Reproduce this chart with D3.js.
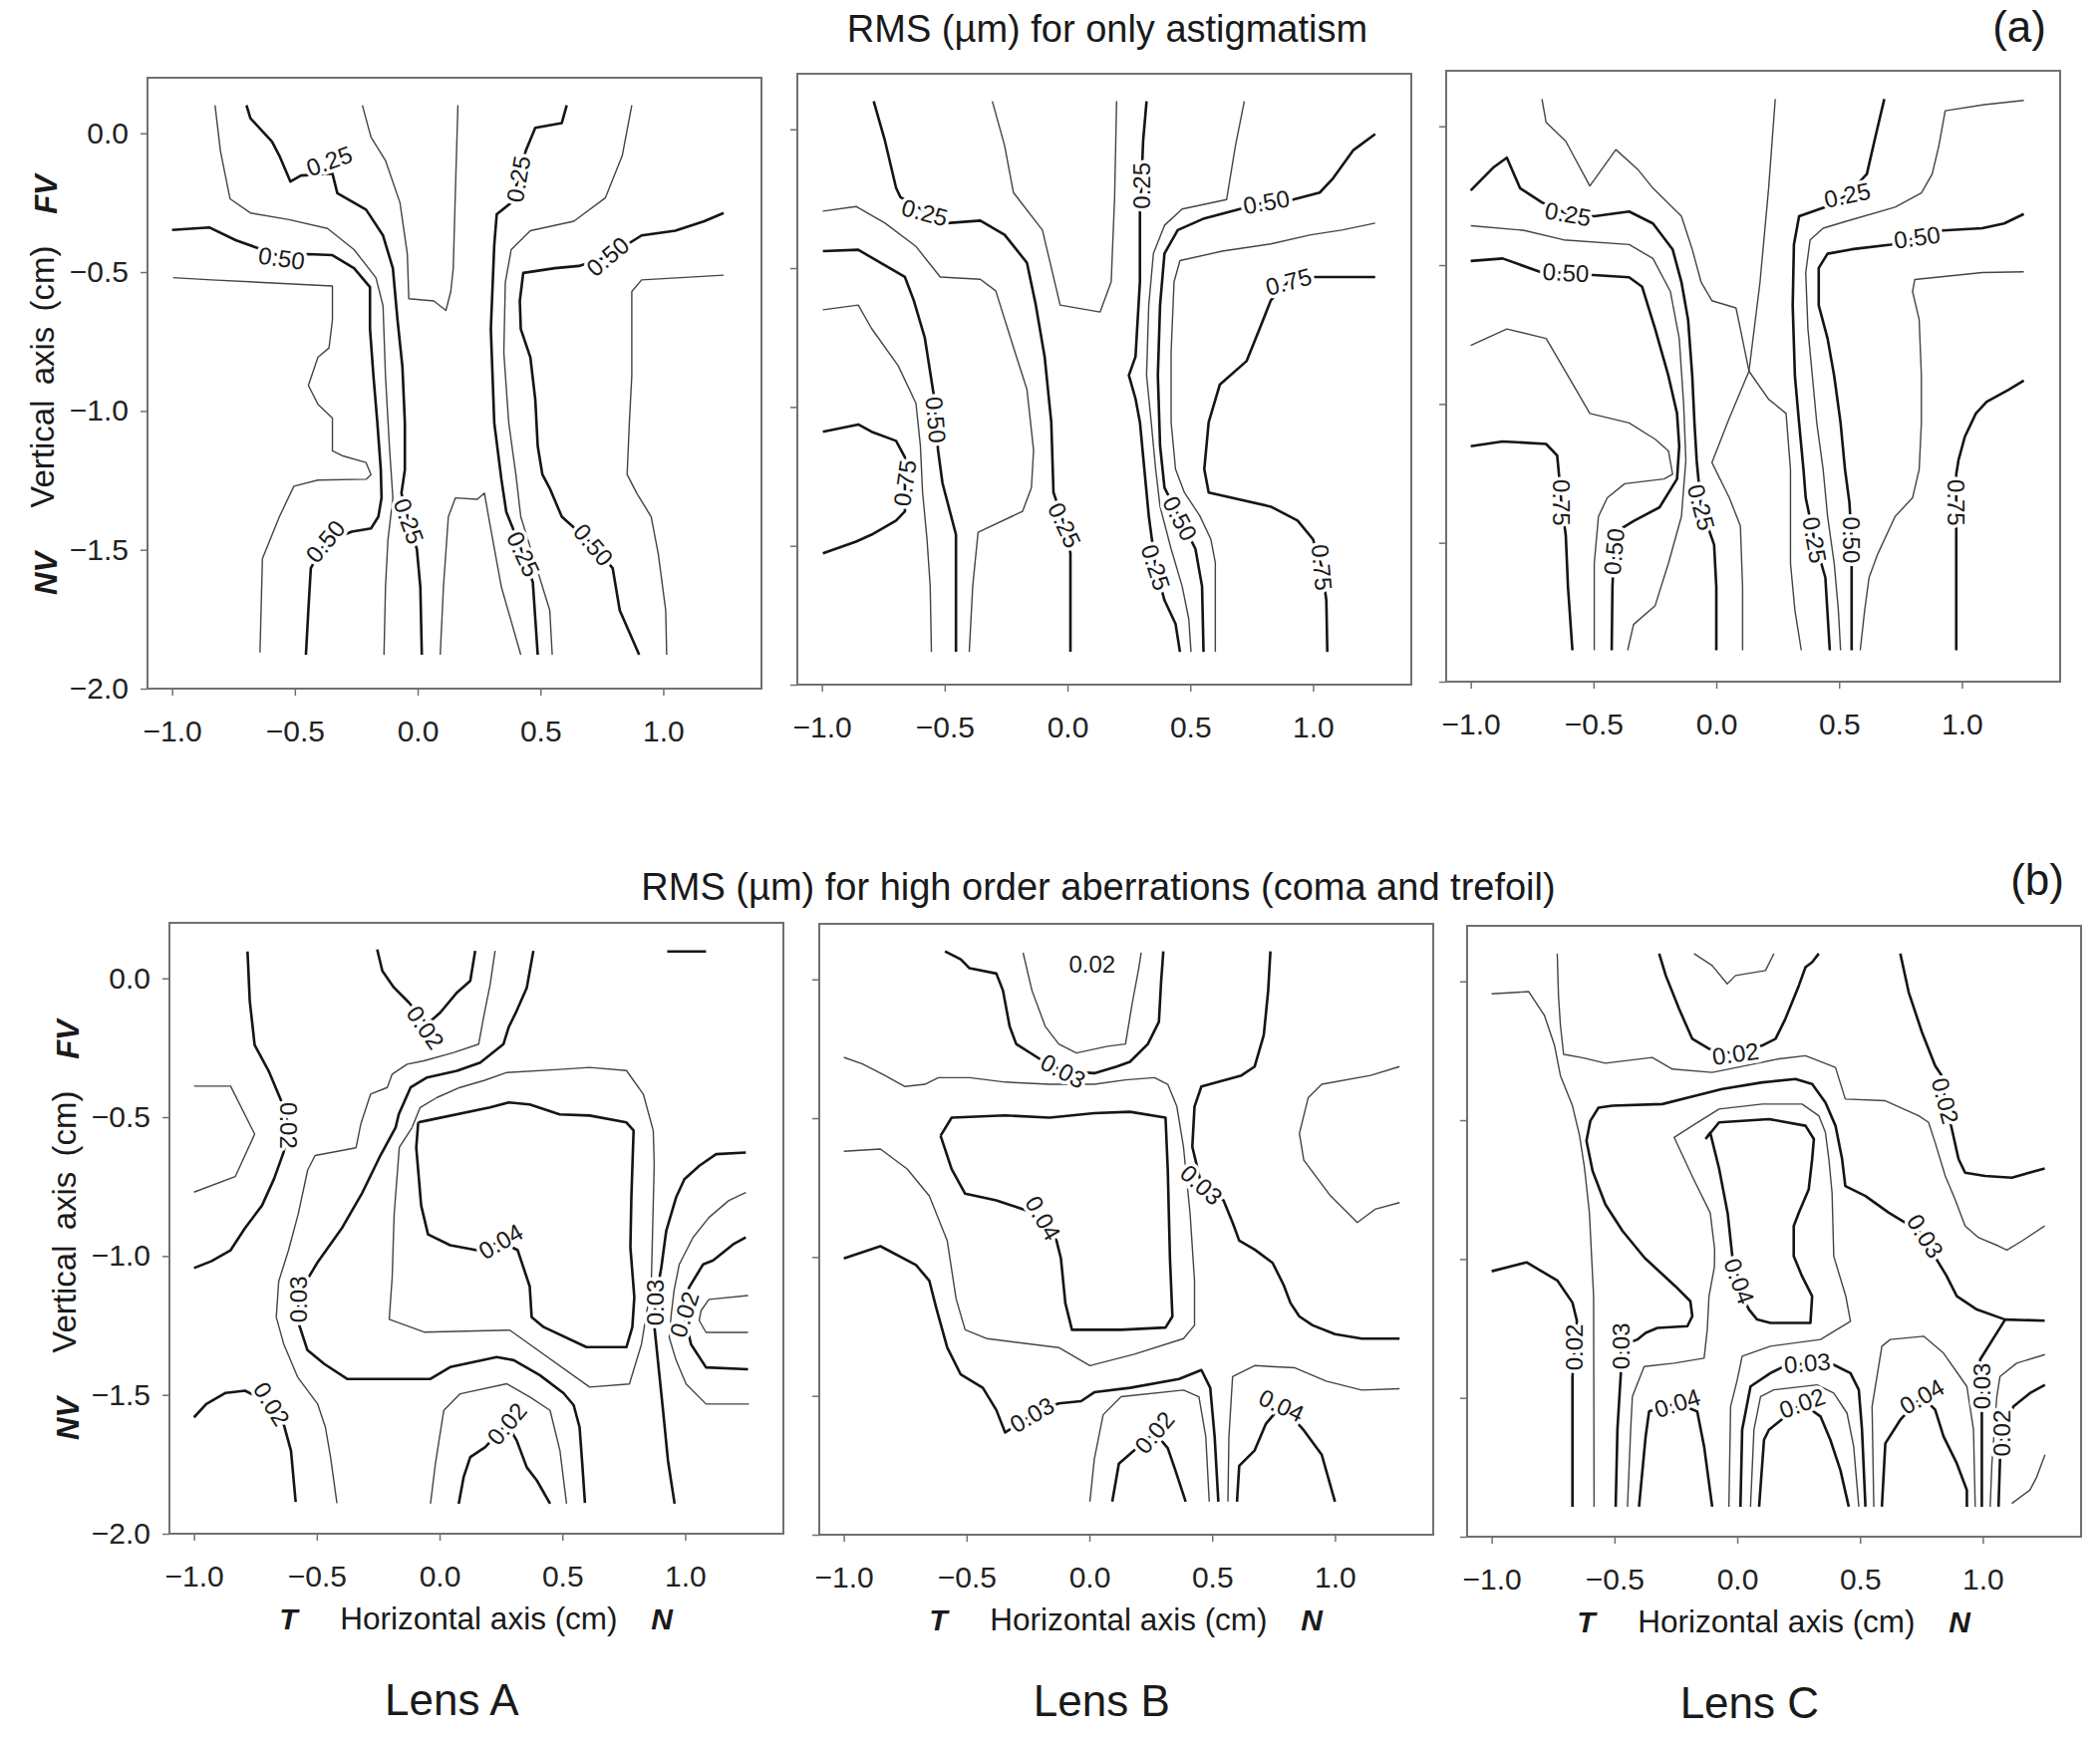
<!DOCTYPE html>
<html lang="en">
<head>
<meta charset="UTF-8">
<title>RMS contour maps - Lens A, B, C</title>
<script src="https://d3js.org/d3.v7.min.js"></script>
<style>
  body { margin: 0; background: #fff; }
  svg text { font-family: "Liberation Sans", Arial, Helvetica, sans-serif; fill: #1a1a1a; }
  .box { fill: none; stroke: #707070; stroke-width: 2; }
  .tick line { stroke: #707070; stroke-width: 1.5; }
  .tick text { font-size: 30px; fill: #222; }
  .major { fill: none; stroke: #151515; stroke-width: 2.6; stroke-linejoin: round; }
  .minor { fill: none; stroke: #444; stroke-width: 1.4; stroke-linejoin: round; }
  .clabel { font-size: 24px; text-anchor: middle; dominant-baseline: central;
            stroke: #fff; stroke-width: 7px; paint-order: stroke; stroke-linejoin: round; }
</style>
</head>
<body>
<svg id="chart" width="2107" height="1746"></svg>
<script>
// ---- data: contour lines, [level, [[x cm, y cm], ...]] ----
var xTicks = [-1, -0.5, 0, 0.5, 1];
var yTicks = [0, -0.5, -1, -1.5, -2];
var majorLevels = [0.25, 0.5, 0.75, 0.02, 0.03, 0.04];
var lensNames = ["Lens A", "Lens B", "Lens C"];

// (a) astigmatism, lens A
var astigA = [
  [0.625, [[-0.996,-0.52],[-0.839,-0.528],[-0.347,-0.55],[-0.347,-0.672],[-0.361,-0.773],[-0.406,-0.807],[-0.445,-0.908],[-0.406,-0.976],[-0.347,-1.026],[-0.347,-1.144],[-0.308,-1.161],[-0.21,-1.186],[-0.19,-1.229],[-0.21,-1.246],[-0.406,-1.249],[-0.504,-1.271],[-0.563,-1.381],[-0.632,-1.532],[-0.642,-1.87]]],
  [0.5, [[-1.0,-0.348],[-0.849,-0.339],[-0.741,-0.385],[-0.662,-0.41],[-0.554,-0.444],[-0.445,-0.435],[-0.347,-0.439],[-0.259,-0.486],[-0.194,-0.554],[-0.194,-0.705],[-0.18,-0.874],[-0.164,-1.043],[-0.15,-1.212],[-0.147,-1.313],[-0.16,-1.381],[-0.19,-1.423],[-0.268,-1.435],[-0.376,-1.473],[-0.435,-1.566],[-0.445,-1.718],[-0.455,-1.878]]],
  [0.375, [[-0.825,0.101],[-0.803,-0.064],[-0.764,-0.236],[-0.681,-0.287],[-0.524,-0.311],[-0.367,-0.343],[-0.259,-0.419],[-0.17,-0.52],[-0.141,-0.621],[-0.131,-0.874],[-0.115,-1.127],[-0.101,-1.313],[-0.121,-1.465],[-0.131,-1.634],[-0.137,-1.878]]],
  [0.25, [[-0.697,0.101],[-0.681,0.054],[-0.593,-0.03],[-0.563,-0.081],[-0.518,-0.174],[-0.475,-0.152],[-0.347,-0.145],[-0.327,-0.216],[-0.21,-0.275],[-0.141,-0.368],[-0.101,-0.486],[-0.082,-0.672],[-0.062,-0.841],[-0.052,-1.043],[-0.052,-1.212],[-0.066,-1.296],[-0.036,-1.397],[-0.003,-1.499],[0.011,-1.634],[0.017,-1.878]]],
  [0.125, [[-0.225,0.101],[-0.19,-0.014],[-0.131,-0.098],[-0.072,-0.25],[-0.042,-0.435],[-0.036,-0.596],[0.066,-0.604],[0.115,-0.638],[0.135,-0.57],[0.145,-0.486],[0.154,-0.199],[0.164,0.101]]],
  [0.125, [[0.092,-1.878],[0.105,-1.634],[0.125,-1.381],[0.154,-1.313],[0.243,-1.318],[0.272,-1.296],[0.292,-1.397],[0.341,-1.634],[0.42,-1.878]]],
  [0.25, [[0.607,0.101],[0.587,0.037],[0.479,0.02],[0.44,-0.064],[0.41,-0.165],[0.381,-0.25],[0.322,-0.292],[0.312,-0.402],[0.298,-0.705],[0.312,-1.043],[0.341,-1.246],[0.361,-1.364],[0.43,-1.516],[0.469,-1.617],[0.489,-1.878]]],
  [0.375, [[0.872,0.101],[0.833,-0.081],[0.764,-0.233],[0.636,-0.317],[0.459,-0.351],[0.381,-0.419],[0.357,-0.537],[0.351,-0.79],[0.371,-1.043],[0.4,-1.229],[0.42,-1.381],[0.479,-1.549],[0.538,-1.718],[0.548,-1.878]]],
  [0.5, [[1.246,-0.287],[1.167,-0.317],[1.049,-0.351],[0.912,-0.368],[0.774,-0.444],[0.656,-0.478],[0.558,-0.486],[0.43,-0.503],[0.416,-0.604],[0.42,-0.705],[0.459,-0.807],[0.479,-0.959],[0.489,-1.127],[0.508,-1.229],[0.538,-1.279],[0.587,-1.381],[0.715,-1.482],[0.794,-1.566],[0.823,-1.718],[0.902,-1.878]]],
  [0.625, [[1.246,-0.511],[0.912,-0.528],[0.872,-0.57],[0.872,-0.874],[0.862,-1.043],[0.853,-1.229],[0.892,-1.296],[0.951,-1.381],[0.98,-1.516],[1.01,-1.718],[1.014,-1.878]]]
];
var astigALabels = [
  ["0.25", -0.36, -0.10, -20], ["0.50", -0.554, -0.45, 8], ["0.50", -0.376, -1.47, -50],
  ["0.25", -0.036, -1.397, 70], ["0.25", 0.41, -0.165, -80], ["0.25", 0.43, -1.516, 65],
  ["0.50", 0.774, -0.444, -40], ["0.50", 0.715, -1.482, 50]
];

// (a) astigmatism, lens B
var astigB = [
  [0.25, [[-0.789,0.101],[-0.743,-0.042],[-0.698,-0.211],[-0.68,-0.245],[-0.581,-0.295],[-0.49,-0.338],[-0.355,-0.329],[-0.256,-0.38],[-0.165,-0.481],[-0.129,-0.633],[-0.093,-0.819],[-0.066,-1.055],[-0.057,-1.308],[-0.012,-1.426],[0.012,-1.527],[0.012,-1.882]]],
  [0.375, [[-0.996,-0.295],[-0.861,-0.278],[-0.743,-0.338],[-0.617,-0.422],[-0.518,-0.532],[-0.355,-0.54],[-0.292,-0.582],[-0.22,-0.785],[-0.165,-0.937],[-0.138,-1.156],[-0.147,-1.291],[-0.183,-1.376],[-0.364,-1.451],[-0.386,-1.646],[-0.4,-1.882]]],
  [0.5, [[-0.996,-0.439],[-0.852,-0.434],[-0.662,-0.532],[-0.626,-0.616],[-0.581,-0.751],[-0.545,-0.954],[-0.536,-1.046],[-0.527,-1.156],[-0.509,-1.274],[-0.454,-1.46],[-0.454,-1.882]]],
  [0.625, [[-0.996,-0.65],[-0.852,-0.633],[-0.798,-0.717],[-0.689,-0.852],[-0.617,-0.987],[-0.599,-1.139],[-0.59,-1.308],[-0.572,-1.477],[-0.559,-1.646],[-0.554,-1.882]]],
  [0.75, [[-0.996,-1.089],[-0.852,-1.063],[-0.798,-1.089],[-0.698,-1.122],[-0.662,-1.181],[-0.662,-1.274],[-0.662,-1.376],[-0.698,-1.409],[-0.798,-1.46],[-0.861,-1.485],[-0.996,-1.527]]],
  [0.125, [[-0.306,0.101],[-0.256,-0.059],[-0.22,-0.228],[-0.102,-0.363],[-0.03,-0.633],[0.133,-0.658],[0.178,-0.549],[0.192,-0.245],[0.2,0.101]]],
  [0.25, [[0.322,0.101],[0.308,-0.042],[0.301,-0.203],[0.295,-0.295],[0.295,-0.549],[0.277,-0.819],[0.25,-0.886],[0.277,-0.97],[0.295,-1.055],[0.313,-1.224],[0.331,-1.392],[0.359,-1.578],[0.395,-1.696],[0.44,-1.781],[0.458,-1.882]]],
  [0.375, [[0.72,0.101],[0.684,-0.059],[0.648,-0.253],[0.467,-0.287],[0.395,-0.346],[0.35,-0.447],[0.331,-0.633],[0.322,-0.886],[0.341,-1.055],[0.359,-1.224],[0.377,-1.359],[0.422,-1.511],[0.467,-1.646],[0.494,-1.764],[0.503,-1.882]]],
  [0.5, [[1.253,-0.017],[1.163,-0.076],[1.081,-0.177],[1.027,-0.228],[0.919,-0.253],[0.81,-0.262],[0.702,-0.287],[0.557,-0.321],[0.449,-0.363],[0.395,-0.447],[0.377,-0.633],[0.368,-0.886],[0.377,-1.139],[0.395,-1.291],[0.458,-1.401],[0.521,-1.511],[0.548,-1.646],[0.554,-1.882]]],
  [0.625, [[1.253,-0.338],[1.117,-0.363],[0.991,-0.38],[0.828,-0.413],[0.63,-0.439],[0.458,-0.473],[0.434,-0.549],[0.422,-0.802],[0.422,-1.055],[0.44,-1.224],[0.476,-1.308],[0.539,-1.392],[0.584,-1.477],[0.602,-1.561],[0.602,-1.882]]],
  [0.75, [[1.253,-0.532],[1.009,-0.532],[0.9,-0.549],[0.828,-0.616],[0.783,-0.717],[0.729,-0.835],[0.62,-0.92],[0.575,-1.055],[0.557,-1.224],[0.575,-1.308],[0.828,-1.359],[0.937,-1.409],[1.0,-1.477],[1.036,-1.578],[1.054,-1.696],[1.058,-1.882]]]
];
var astigBLabels = [
  ["0.25", -0.581, -0.3, 15], ["0.50", -0.536, -1.046, 85], ["0.75", -0.662, -1.274, -82],
  ["0.25", -0.012, -1.426, 65], ["0.25", 0.301, -0.203, -90], ["0.25", 0.359, -1.578, 72],
  ["0.50", 0.81, -0.262, -10], ["0.50", 0.458, -1.401, 62], ["0.75", 0.9, -0.549, -15],
  ["0.75", 1.036, -1.578, 85]
];

// (a) astigmatism, lens C
var astigC = [
  [0.25, [[-1.0,-0.231],[-0.906,-0.147],[-0.853,-0.113],[-0.799,-0.223],[-0.71,-0.274],[-0.604,-0.316],[-0.497,-0.324],[-0.355,-0.307],[-0.258,-0.35],[-0.178,-0.443],[-0.142,-0.561],[-0.115,-0.696],[-0.098,-0.899],[-0.089,-1.068],[-0.08,-1.203],[-0.062,-1.372],[-0.009,-1.507],[0,-1.659],[0,-1.887]]],
  [0.125, [[-0.71,0.098],[-0.693,0.014],[-0.613,-0.054],[-0.515,-0.215],[-0.409,-0.084],[-0.32,-0.155],[-0.258,-0.223],[-0.142,-0.324],[-0.098,-0.443],[-0.062,-0.561],[-0.018,-0.628],[0.08,-0.654],[0.098,-0.73],[0.133,-0.882],[0.213,-0.983],[0.284,-1.034],[0.302,-1.236],[0.302,-1.574],[0.32,-1.743],[0.346,-1.887]]],
  [0.375, [[-1.0,-0.358],[-0.782,-0.375],[-0.622,-0.409],[-0.355,-0.426],[-0.258,-0.476],[-0.187,-0.595],[-0.151,-0.764],[-0.133,-1.0],[-0.124,-1.203],[-0.142,-1.405],[-0.195,-1.574],[-0.249,-1.726],[-0.337,-1.794],[-0.361,-1.887]]],
  [0.5, [[-1.0,-0.485],[-0.87,-0.476],[-0.71,-0.527],[-0.613,-0.527],[-0.515,-0.535],[-0.355,-0.544],[-0.302,-0.578],[-0.249,-0.73],[-0.195,-0.899],[-0.16,-1.034],[-0.151,-1.152],[-0.16,-1.27],[-0.231,-1.372],[-0.337,-1.422],[-0.4,-1.456],[-0.417,-1.532],[-0.423,-1.659],[-0.426,-1.887]]],
  [0.625, [[-1.0,-0.789],[-0.853,-0.73],[-0.693,-0.764],[-0.604,-0.899],[-0.515,-1.034],[-0.355,-1.068],[-0.249,-1.127],[-0.195,-1.169],[-0.178,-1.253],[-0.213,-1.27],[-0.373,-1.287],[-0.444,-1.338],[-0.48,-1.405],[-0.497,-1.574],[-0.497,-1.887]]],
  [0.75, [[-1.0,-1.152],[-0.87,-1.135],[-0.693,-1.144],[-0.648,-1.186],[-0.639,-1.27],[-0.631,-1.355],[-0.613,-1.473],[-0.604,-1.659],[-0.586,-1.887]]],
  [0.125, [[0.24,0.098],[0.213,-0.223],[0.178,-0.561],[0.133,-0.882],[0.053,-1.051],[-0.018,-1.211],[0.053,-1.338],[0.098,-1.439],[0.107,-1.659],[0.107,-1.887]]],
  [0.25, [[0.684,0.098],[0.648,-0.037],[0.613,-0.172],[0.533,-0.248],[0.444,-0.291],[0.337,-0.324],[0.316,-0.426],[0.311,-0.645],[0.32,-0.899],[0.337,-1.068],[0.355,-1.236],[0.364,-1.338],[0.4,-1.49],[0.444,-1.625],[0.462,-1.887]]],
  [0.375, [[1.252,0.093],[1.092,0.078],[0.932,0.056],[0.906,-0.071],[0.879,-0.172],[0.835,-0.24],[0.728,-0.291],[0.533,-0.341],[0.435,-0.367],[0.382,-0.409],[0.364,-0.527],[0.373,-0.73],[0.391,-0.899],[0.409,-1.068],[0.435,-1.236],[0.453,-1.405],[0.48,-1.574],[0.497,-1.743],[0.506,-1.887]]],
  [0.5, [[1.252,-0.316],[1.172,-0.35],[1.083,-0.367],[0.924,-0.375],[0.817,-0.4],[0.71,-0.426],[0.551,-0.443],[0.453,-0.459],[0.417,-0.51],[0.417,-0.645],[0.453,-0.764],[0.48,-0.899],[0.506,-1.068],[0.524,-1.236],[0.542,-1.355],[0.551,-1.49],[0.551,-1.659],[0.551,-1.887]]],
  [0.625, [[1.252,-0.524],[1.083,-0.527],[0.808,-0.552],[0.799,-0.595],[0.826,-0.696],[0.835,-0.899],[0.835,-1.068],[0.826,-1.236],[0.799,-1.338],[0.728,-1.405],[0.657,-1.541],[0.622,-1.625],[0.604,-1.743],[0.586,-1.887]]],
  [0.75, [[1.252,-0.916],[1.19,-0.949],[1.101,-0.992],[1.057,-1.034],[1.012,-1.118],[0.986,-1.203],[0.977,-1.253],[0.977,-1.355],[0.977,-1.439],[0.977,-1.659],[0.977,-1.887]]]
];
var astigCLabels = [
  ["0.25", -0.604, -0.316, 10], ["0.50", -0.613, -0.527, 3], ["0.25", -0.062, -1.372, 75],
  ["0.50", -0.417, -1.532, -85], ["0.75", -0.631, -1.355, 90], ["0.25", 0.533, -0.248, -12],
  ["0.50", 0.817, -0.4, -8], ["0.25", 0.4, -1.49, 80], ["0.50", 0.551, -1.49, 90],
  ["0.75", 0.977, -1.355, 90]
];

// (b) coma + trefoil, lens A
var hoaA = [
  [0.02, [[-0.782,0.097],[-0.773,-0.08],[-0.753,-0.24],[-0.694,-0.337],[-0.645,-0.441],[-0.615,-0.53],[-0.635,-0.626],[-0.674,-0.722],[-0.723,-0.818],[-0.792,-0.899],[-0.851,-0.979],[-0.93,-1.019],[-1.0,-1.043]]],
  [0.015, [[-1.0,-0.388],[-0.851,-0.388],[-0.753,-0.561],[-0.832,-0.714],[-1.0,-0.77]]],
  [0.02, [[-0.254,0.104],[-0.233,0.027],[-0.186,-0.033],[-0.125,-0.087],[-0.051,-0.165],[0.003,-0.123],[0.071,-0.051],[0.125,-0.009],[0.145,0.099]]],
  [0.025, [[0.226,0.099],[0.206,-0.022],[0.179,-0.141],[0.159,-0.237],[0.058,-0.267],[-0.064,-0.297],[-0.132,-0.309],[-0.193,-0.345],[-0.213,-0.393],[-0.281,-0.417],[-0.321,-0.525],[-0.34,-0.61],[-0.507,-0.638],[-0.537,-0.69],[-0.576,-0.85],[-0.615,-0.979],[-0.655,-1.091],[-0.665,-1.22],[-0.635,-1.316],[-0.578,-1.436],[-0.497,-1.532],[-0.465,-1.616],[-0.444,-1.724],[-0.418,-1.89]]],
  [0.03, [[0.382,0.099],[0.355,-0.034],[0.314,-0.117],[0.281,-0.177],[0.26,-0.237],[0.166,-0.303],[0.071,-0.333],[-0.051,-0.357],[-0.118,-0.393],[-0.166,-0.489],[-0.179,-0.537],[-0.245,-0.645],[-0.314,-0.771],[-0.396,-0.897],[-0.497,-1.023],[-0.558,-1.113],[-0.574,-1.156],[-0.578,-1.231],[-0.538,-1.339],[-0.469,-1.389],[-0.375,-1.443],[-0.039,-1.443],[0.043,-1.4],[0.233,-1.364],[0.302,-1.375],[0.408,-1.429],[0.505,-1.494],[0.546,-1.537],[0.57,-1.616],[0.582,-1.76],[0.592,-1.889]]],
  [0.035, [[-0.112,-0.537],[-0.079,-0.465],[-0.01,-0.429],[0.083,-0.393],[0.181,-0.368],[0.274,-0.339],[0.489,-0.328],[0.611,-0.321],[0.761,-0.332],[0.83,-0.418],[0.87,-0.548],[0.874,-0.67],[0.862,-1.102],[0.822,-1.318],[0.773,-1.461],[0.611,-1.472],[0.286,-1.267],[-0.063,-1.274],[-0.205,-1.228],[-0.193,-1.077],[-0.185,-0.85],[-0.164,-0.609],[-0.112,-0.537]]],
  [0.04, [[-0.087,-0.519],[-0.051,-0.512],[0.205,-0.465],[0.282,-0.447],[0.367,-0.454],[0.489,-0.49],[0.611,-0.494],[0.761,-0.519],[0.79,-0.548],[0.781,-0.789],[0.777,-0.969],[0.793,-1.148],[0.785,-1.256],[0.761,-1.328],[0.598,-1.328],[0.424,-1.256],[0.375,-1.22],[0.367,-1.109],[0.318,-0.979],[0.249,-0.947],[0.152,-0.979],[0.043,-0.961],[-0.047,-0.922],[-0.075,-0.818],[-0.095,-0.609],[-0.087,-0.519]]],
  [0.03, [[1.247,-0.627],[1.126,-0.633],[1.058,-0.675],[0.997,-0.723],[0.963,-0.789],[0.923,-0.909],[0.903,-1.041],[0.878,-1.167],[0.875,-1.256],[0.896,-1.436],[0.91,-1.556],[0.93,-1.736],[0.957,-1.892]]],
  [0.025, [[1.247,-0.771],[1.178,-0.8],[1.097,-0.861],[1.032,-0.933],[0.976,-1.03],[0.955,-1.123],[0.943,-1.213],[0.935,-1.293],[0.963,-1.375],[1.004,-1.461],[1.085,-1.533],[1.26,-1.533]]],
  [0.02, [[1.247,-0.933],[1.195,-0.958],[1.114,-1.016],[1.073,-1.03],[1.016,-1.113],[1.004,-1.149],[0.996,-1.21],[1.024,-1.318],[1.085,-1.401],[1.256,-1.408]]],
  [0.015, [[1.256,-1.142],[1.097,-1.156],[1.065,-1.196],[1.057,-1.232],[1.085,-1.275],[1.256,-1.275]]],
  [0.02, [[-1.0,-1.581],[-0.95,-1.533],[-0.871,-1.493],[-0.792,-1.485],[-0.684,-1.533],[-0.635,-1.605],[-0.605,-1.702],[-0.586,-1.886]]],
  [0.025, [[-0.037,-1.892],[-0.017,-1.748],[0.017,-1.556],[0.084,-1.496],[0.274,-1.46],[0.368,-1.508],[0.45,-1.556],[0.49,-1.7],[0.517,-1.892]]],
  [0.02, [[0.078,-1.892],[0.098,-1.796],[0.125,-1.724],[0.186,-1.688],[0.274,-1.604],[0.314,-1.664],[0.355,-1.761],[0.396,-1.808],[0.45,-1.892]]],
  [0.02, [[0.927,0.097],[1.085,0.097]]]
];
var hoaALabels = [
  ["0.02", -0.615, -0.53, 90], ["0.02", -0.058, -0.177, 55], ["0.03", -0.574, -1.156, -90],
  ["0.04", 0.249, -0.947, -30], ["0.03", 0.878, -1.167, -90], ["0.02", 0.996, -1.21, -72],
  ["0.02", -0.684, -1.533, 58], ["0.02", 0.274, -1.604, -50]
];

// (b) coma + trefoil, lens B
var hoaB = [
  [0.03, [[-0.588,0.101],[-0.524,0.072],[-0.488,0.04],[-0.379,0.021],[-0.352,-0.04],[-0.325,-0.169],[-0.298,-0.233],[-0.198,-0.289],[-0.107,-0.33],[0.02,-0.338],[0.111,-0.314],[0.165,-0.297],[0.238,-0.233],[0.283,-0.153],[0.292,-0.008],[0.301,0.101]]],
  [0.025, [[-0.27,0.096],[-0.234,-0.04],[-0.18,-0.169],[-0.125,-0.233],[-0.053,-0.265],[0.074,-0.241],[0.147,-0.233],[0.174,-0.088],[0.201,0.04],[0.211,0.096]]],
  [0.035, [[-1.0,-0.281],[-0.924,-0.305],[-0.833,-0.346],[-0.751,-0.386],[-0.67,-0.378],[-0.615,-0.354],[-0.488,-0.354],[-0.343,-0.37],[-0.162,-0.378],[0.02,-0.378],[0.147,-0.362],[0.265,-0.354],[0.319,-0.378],[0.356,-0.458],[0.383,-0.603],[0.41,-0.844],[0.428,-1.085],[0.428,-1.246],[0.383,-1.294],[0.183,-1.35],[0.002,-1.391],[-0.125,-1.326],[-0.416,-1.294],[-0.506,-1.262],[-0.543,-1.15],[-0.579,-0.941],[-0.652,-0.78],[-0.742,-0.683],[-0.851,-0.611],[-1.0,-0.619]]],
  [0.04, [[-0.606,-0.563],[-0.561,-0.498],[-0.343,-0.49],[-0.162,-0.498],[0.02,-0.482],[0.165,-0.477],[0.31,-0.498],[0.319,-0.683],[0.328,-1.005],[0.338,-1.214],[0.31,-1.254],[0.129,-1.262],[-0.071,-1.262],[-0.098,-1.166],[-0.116,-1.005],[-0.134,-0.941],[-0.189,-0.86],[-0.27,-0.828],[-0.379,-0.796],[-0.506,-0.772],[-0.561,-0.683],[-0.606,-0.563]]],
  [0.03, [[0.737,0.101],[0.728,-0.04],[0.71,-0.201],[0.673,-0.314],[0.619,-0.346],[0.456,-0.386],[0.428,-0.458],[0.419,-0.603],[0.456,-0.74],[0.546,-0.796],[0.583,-0.876],[0.61,-0.941],[0.673,-0.973],[0.746,-1.021],[0.791,-1.101],[0.819,-1.166],[0.855,-1.214],[0.909,-1.246],[1.0,-1.278],[1.109,-1.294],[1.263,-1.294]]],
  [0.025, [[1.263,-0.314],[1.145,-0.346],[0.946,-0.378],[0.891,-0.426],[0.855,-0.555],[0.873,-0.651],[0.982,-0.78],[1.091,-0.876],[1.163,-0.828],[1.263,-0.804]]],
  [0.03, [[-1.0,-1.005],[-0.851,-0.961],[-0.706,-1.029],[-0.652,-1.085],[-0.624,-1.182],[-0.579,-1.326],[-0.524,-1.423],[-0.434,-1.471],[-0.379,-1.551],[-0.343,-1.632],[-0.234,-1.568],[-0.125,-1.527],[-0.034,-1.519],[0.02,-1.487],[0.165,-1.471],[0.365,-1.439],[0.456,-1.407],[0.492,-1.471],[0.51,-1.648],[0.525,-1.881]]],
  [0.025, [[0.002,-1.881],[0.02,-1.728],[0.056,-1.568],[0.129,-1.503],[0.383,-1.479],[0.446,-1.503],[0.474,-1.648],[0.488,-1.881]]],
  [0.02, [[0.093,-1.881],[0.12,-1.744],[0.183,-1.696],[0.265,-1.632],[0.319,-1.688],[0.347,-1.76],[0.392,-1.881]]],
  [0.035, [[0.564,-1.881],[0.568,-1.648],[0.583,-1.431],[0.673,-1.391],[0.837,-1.399],[0.964,-1.447],[1.109,-1.479],[1.263,-1.474]]],
  [0.04, [[0.601,-1.881],[0.61,-1.752],[0.673,-1.696],[0.719,-1.6],[0.782,-1.535],[0.873,-1.624],[0.946,-1.712],[1.0,-1.881]]]
];
var hoaBLabels = [
  ["0.02", 0.011, 0.056, 0], ["0.03", -0.107, -0.33, 28], ["0.04", -0.189, -0.86, 60],
  ["0.03", 0.456, -0.74, 42], ["0.03", -0.234, -1.568, -30], ["0.02", 0.265, -1.632, -50],
  ["0.04", 0.782, -1.535, 25]
];

// (b) coma + trefoil, lens C
var hoaC = [
  [0.015, [[-0.176,0.1],[-0.102,0.057],[-0.041,-0.009],[-0.007,0.021],[0.115,0.039],[0.142,0.087],[0.149,0.1]]],
  [0.02, [[-0.318,0.1],[-0.291,0.021],[-0.237,-0.099],[-0.183,-0.207],[-0.115,-0.243],[-0.007,-0.261],[0.102,-0.231],[0.156,-0.207],[0.196,-0.135],[0.251,-0.015],[0.278,0.051],[0.305,0.069],[0.332,0.1]]],
  [0.025, [[-0.733,0.1],[-0.728,-0.051],[-0.72,-0.159],[-0.707,-0.263],[-0.63,-0.275],[-0.537,-0.295],[-0.346,-0.274],[-0.264,-0.316],[-0.102,-0.328],[0.034,-0.304],[0.17,-0.279],[0.278,-0.268],[0.4,-0.31],[0.44,-0.424],[0.603,-0.43],[0.739,-0.484],[0.779,-0.508],[0.806,-0.581],[0.847,-0.701],[0.887,-0.785],[0.928,-0.881],[0.983,-0.923],[1.064,-0.953],[1.098,-0.968],[1.159,-0.935],[1.252,-0.881]]],
  [0.02, [[0.664,0.1],[0.698,-0.039],[0.752,-0.183],[0.806,-0.304],[0.833,-0.34],[0.847,-0.43],[0.874,-0.532],[0.901,-0.64],[0.928,-0.689],[1.009,-0.701],[1.118,-0.707],[1.252,-0.674]]],
  [0.03, [[-0.495,-1.892],[-0.488,-1.615],[-0.474,-1.411],[-0.474,-1.314],[-0.407,-1.29],[-0.373,-1.266],[-0.325,-1.248],[-0.203,-1.242],[-0.183,-1.206],[-0.191,-1.152],[-0.252,-1.098],[-0.377,-0.996],[-0.467,-0.899],[-0.537,-0.803],[-0.589,-0.683],[-0.614,-0.574],[-0.598,-0.502],[-0.565,-0.455],[-0.508,-0.448],[-0.305,-0.442],[-0.17,-0.412],[-0.061,-0.388],[0.102,-0.364],[0.237,-0.352],[0.305,-0.37],[0.359,-0.436],[0.4,-0.52],[0.427,-0.64],[0.44,-0.737],[0.522,-0.773],[0.617,-0.833],[0.684,-0.869],[0.765,-0.917],[0.808,-0.996],[0.852,-1.06],[0.894,-1.134],[0.976,-1.182],[1.091,-1.218],[1.252,-1.222]]],
  [0.03, [[1.091,-1.218],[0.989,-1.362],[0.996,-1.458],[0.996,-1.561],[0.996,-1.892]]],
  [0.04, [[-0.129,-0.568],[-0.074,-0.508],[0.129,-0.496],[0.278,-0.52],[0.312,-0.568],[0.305,-0.64],[0.291,-0.749],[0.251,-0.833],[0.23,-0.881],[0.23,-0.99],[0.264,-1.062],[0.305,-1.134],[0.298,-1.23],[0.135,-1.23],[0.081,-1.218],[0.048,-1.182],[0.02,-1.134],[0.008,-1.08],[-0.02,-0.99],[-0.039,-0.835],[-0.074,-0.674],[-0.11,-0.545],[-0.129,-0.568]]],
  [0.035, [[-0.447,-1.892],[-0.434,-1.615],[-0.427,-1.495],[-0.379,-1.387],[-0.257,-1.375],[-0.135,-1.357],[-0.122,-1.254],[-0.115,-1.134],[-0.093,-1.029],[-0.092,-0.964],[-0.11,-0.834],[-0.181,-0.706],[-0.257,-0.562],[-0.183,-0.52],[-0.074,-0.46],[0.102,-0.442],[0.264,-0.442],[0.332,-0.484],[0.359,-0.544],[0.373,-0.64],[0.386,-0.761],[0.393,-0.99],[0.442,-1.134],[0.461,-1.224],[0.339,-1.29],[0.135,-1.314],[0.02,-1.35],[0,-1.435],[-0.027,-1.531],[-0.034,-1.892]]],
  [0.02, [[-1.0,-1.044],[-0.858,-1.012],[-0.733,-1.077],[-0.671,-1.157],[-0.653,-1.222],[-0.662,-1.318],[-0.671,-1.423],[-0.671,-1.892]]],
  [0.025, [[-1.0,-0.045],[-0.849,-0.037],[-0.785,-0.123],[-0.744,-0.231],[-0.72,-0.34],[-0.671,-0.448],[-0.642,-0.556],[-0.622,-0.672],[-0.602,-0.834],[-0.585,-1.134],[-0.583,-1.892]]],
  [0.04, [[-0.4,-1.892],[-0.373,-1.639],[-0.359,-1.549],[-0.339,-1.543],[-0.244,-1.519],[-0.163,-1.549],[-0.135,-1.675],[-0.102,-1.892]]],
  [0.03, [[0.013,-1.892],[0.02,-1.615],[0.054,-1.459],[0.135,-1.411],[0.19,-1.387],[0.285,-1.375],[0.393,-1.381],[0.461,-1.411],[0.495,-1.471],[0.508,-1.615],[0.522,-1.892]]],
  [0.025, [[0.054,-1.892],[0.068,-1.615],[0.095,-1.495],[0.149,-1.471],[0.325,-1.453],[0.393,-1.483],[0.447,-1.555],[0.474,-1.675],[0.495,-1.892]]],
  [0.02, [[0.089,-1.892],[0.109,-1.651],[0.129,-1.615],[0.163,-1.591],[0.264,-1.519],[0.339,-1.567],[0.379,-1.651],[0.42,-1.76],[0.454,-1.892]]],
  [0.035, [[0.556,-1.892],[0.549,-1.531],[0.589,-1.314],[0.623,-1.29],[0.759,-1.278],[0.84,-1.339],[0.935,-1.459],[0.962,-1.615],[0.969,-1.892]]],
  [0.04, [[0.589,-1.892],[0.603,-1.664],[0.664,-1.579],[0.752,-1.495],[0.806,-1.543],[0.84,-1.639],[0.894,-1.736],[0.935,-1.832],[0.935,-1.892]]],
  [0.025, [[1.03,-1.892],[1.037,-1.736],[1.057,-1.495],[1.07,-1.423],[1.138,-1.375],[1.253,-1.344]]],
  [0.02, [[1.064,-1.892],[1.07,-1.723],[1.077,-1.627],[1.125,-1.531],[1.192,-1.483],[1.253,-1.453]]],
  [0.015, [[1.118,-1.88],[1.192,-1.832],[1.22,-1.784],[1.253,-1.705]]]
];
var hoaCLabels = [
  ["0.02", -0.007, -0.261, -8], ["0.02", 0.847, -0.43, 75], ["0.03", 0.765, -0.917, 58],
  ["0.04", 0.008, -1.08, 70], ["0.03", -0.474, -1.314, -90], ["0.02", -0.662, -1.318, -90],
  ["0.03", 0.996, -1.458, -90], ["0.04", -0.244, -1.519, -18], ["0.03", 0.285, -1.375, -5],
  ["0.02", 0.264, -1.519, -20], ["0.04", 0.752, -1.495, -30], ["0.02", 1.077, -1.627, -90]
];

// ---- layout ----
var W = 616, H = 613;
var svg = d3.select("#chart");

var panels = [
  {lines: astigA, labels: astigALabels, left: 148, top: 78, yText: true},
  {lines: astigB, labels: astigBLabels, left: 800, top: 74},
  {lines: astigC, labels: astigCLabels, left: 1451, top: 71},
  {lines: hoaA, labels: hoaALabels, left: 170, top: 926, yText: true, xTitle: 0},
  {lines: hoaB, labels: hoaBLabels, left: 822, top: 927, xTitle: 1},
  {lines: hoaC, labels: hoaCLabels, left: 1472, top: 929, xTitle: 2}
];

var isMajor = function(l) { return majorLevels.some(function(m) { return Math.abs(m - l) < 1e-9; }); };
var fmt = d3.format(".1f");

panels.forEach(function(p) {
  var x = d3.scaleLinear().domain([-1.1, 1.4]).range([0, W]);
  var y = d3.scaleLinear().domain([-2.0, 0.2]).range([H, 0]);
  var g = svg.append("g").attr("transform", "translate(" + p.left + "," + p.top + ")");

  g.append("g")
    .attr("transform", "translate(0," + H + ")")
    .call(d3.axisBottom(x).tickValues(xTicks).tickSize(7).tickPadding(25).tickFormat(fmt))
    .call(function(a) { a.select(".domain").remove(); });

  g.append("g")
    .call(d3.axisLeft(y).tickValues(yTicks).tickSize(7).tickPadding(12).tickFormat(p.yText ? fmt : ""))
    .call(function(a) { a.select(".domain").remove(); });

  g.append("rect").attr("class", "box").attr("width", W).attr("height", H);

  var line = d3.line().x(function(d) { return x(d[0]); }).y(function(d) { return y(d[1]); });

  // thin lines first, thick on top
  var sorted = p.lines.slice().sort(function(a, b) { return isMajor(a[0]) - isMajor(b[0]); });
  g.selectAll("path.contour")
    .data(sorted)
    .enter().append("path")
    .attr("class", function(d) { return "contour " + (isMajor(d[0]) ? "major" : "minor"); })
    .attr("d", function(d) { return line(d[1]); });

  g.selectAll("text.clabel")
    .data(p.labels)
    .enter().append("text")
    .attr("class", "clabel")
    .attr("transform", function(d) { return "translate(" + x(d[1]) + "," + y(d[2]) + ") rotate(" + d[3] + ")"; })
    .text(function(d) { return d[0]; });

  if (p.yText) {
    var yl = g.append("g").attr("transform", "translate(-106,0)");
    yl.append("text")
      .attr("transform", "translate(0," + y(-0.877) + ") rotate(-90)")
      .attr("text-anchor", "middle").attr("dy", "0.35em")
      .style("font-size", "33px").style("word-spacing", "6px")
      .text("Vertical axis (cm)");
    [["FV", -0.22], ["NV", -1.585]].forEach(function(t) {
      yl.append("text")
        .attr("transform", "translate(4," + y(t[1]) + ") rotate(-90)")
        .attr("text-anchor", "middle").attr("dy", "0.35em")
        .style("font-size", "31px").style("font-weight", "bold").style("font-style", "italic")
        .text(t[0]);
    });
  }

  if (p.xTitle !== undefined) {
    var by = H + 96;
    g.append("text").attr("x", x(-0.615)).attr("y", by).attr("text-anchor", "middle")
      .style("font-size", "30px").style("font-weight", "bold").style("font-style", "italic").text("T");
    g.append("text").attr("x", x(0.16)).attr("y", by).attr("text-anchor", "middle")
      .style("font-size", "31.5px").text("Horizontal axis (cm)");
    g.append("text").attr("x", x(0.905)).attr("y", by).attr("text-anchor", "middle")
      .style("font-size", "30px").style("font-weight", "bold").style("font-style", "italic").text("N");
    g.append("text").attr("x", x(0.05)).attr("y", H + 182).attr("text-anchor", "middle")
      .style("font-size", "44px").text(lensNames[p.xTitle]);
  }
});

// titles
svg.append("text").attr("x", 1111).attr("y", 42).attr("text-anchor", "middle")
  .style("font-size", "38px").text("RMS (\u00b5m) for only astigmatism");
svg.append("text").attr("x", 2053).attr("y", 42).attr("text-anchor", "end")
  .style("font-size", "44px").text("(a)");
svg.append("text").attr("x", 1102).attr("y", 903).attr("text-anchor", "middle")
  .style("font-size", "38px").text("RMS (\u00b5m) for high order aberrations (coma and trefoil)");
svg.append("text").attr("x", 2071).attr("y", 898).attr("text-anchor", "end")
  .style("font-size", "44px").text("(b)");
</script>
</body>
</html>
